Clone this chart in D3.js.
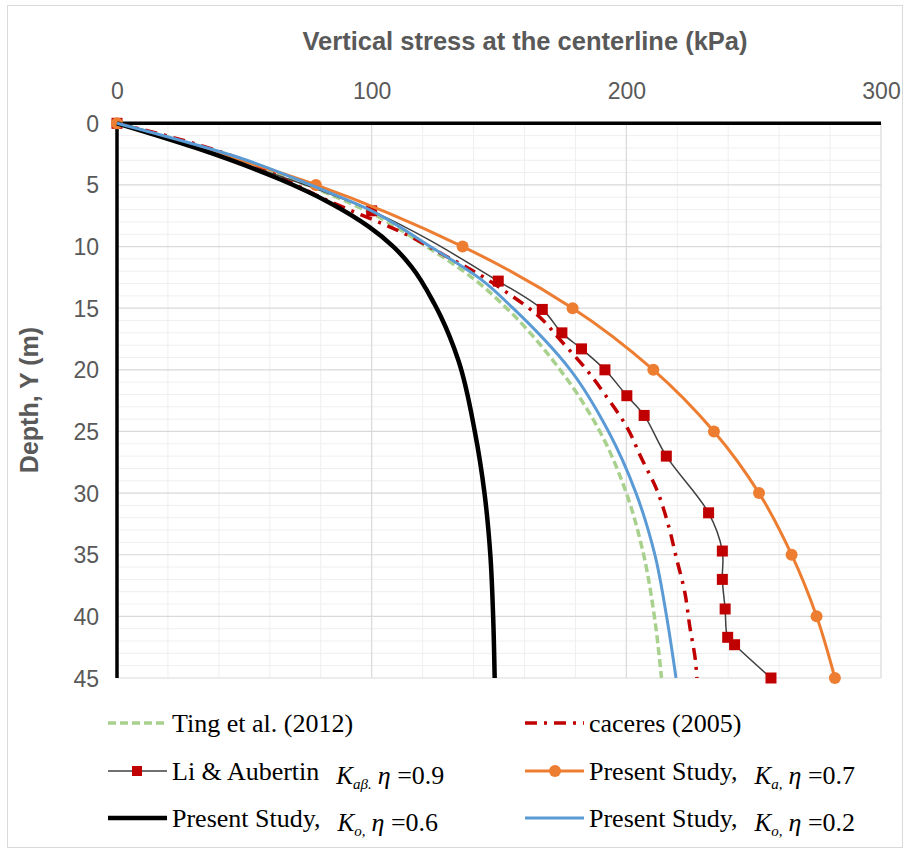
<!DOCTYPE html>
<html><head><meta charset="utf-8">
<script src="https://cdn.jsdelivr.net/npm/d3@7"></script>
<style>body{margin:0;background:#fff}svg{display:block}</style>
</head><body><div id="chart"></div>
<script>
// ---- data ----
const xTicks = [0,100,200,300];
const yTicks = [0,5,10,15,20,25,30,35,40,45];

const tingDepth  = [0,3,5,7,10,12.8,15,20,25,30,35,40,45];
const tingStress = [0,50,74.5,97,121.6,141.2,153,174,189.6,200,206.8,211,213.8];

const caceresDepth  = [0,1.5,3,4.7,5.9,9.3,10.8,12.3,13.9,15.5,17.7,20,22.2,24.6,27.2,29.7,32.6,35.3,38.1,40.8,43.7,45];
const caceresStress = [0,28,50,67.3,79,116.3,129.4,142.5,154.3,164.8,174.6,184.4,192.3,200.1,206,211.9,216.5,219.7,223,224.9,227.2,227.7];

const liDepth  = [0,7.1,12.8,15.1,17.0,18.3,20.0,22.1,23.7,27.0,31.6,34.7,37.0,39.4,41.7,42.3,45.0];
const liStress = [0,100,149.7,167.0,174.7,182.4,191.6,200.2,207.0,215.7,232.3,237.7,237.7,238.8,239.8,242.5,256.8];

const kaDepth  = [0,5,10,15,20,25,30,35,40,45];
const kaStress = [0,78.1,135.7,178.9,210.6,234.4,252.1,264.9,274.7,281.9];

const ko06Depth  = [0,2,4.5,6.5,8.4,10,11.6,14.6,15.7,19.2,25,30,35,40,45];
const ko06Stress = [0,31,63.5,84,99,108.5,115.5,124.5,127.2,134,140.5,144.3,146.6,147.7,148.3];

const ko02Depth  = [0,3,5,7,10,12.8,15,20,25,30,35,40,45];
const ko02Stress = [0,51,76,99,123,143.8,155.5,178,193,203.8,211.2,215.8,219.5];

const zip = (d, s) => d.map((v, i) => ({depth: v, stress: s[i]}));

// ---- layout ----
const W = 907, H = 852;
const svg = d3.select('#chart').append('svg').attr('width', W).attr('height', H);
svg.append('rect').attr('x', 7.5).attr('y', 5.5).attr('width', 895).attr('height', 842)
  .attr('fill', '#fff').attr('stroke', '#d9d9d9').attr('stroke-width', 1);

const x = d3.scaleLinear().domain([0,300]).range([117, 881]);
const y = d3.scaleLinear().domain([0,45]).range([123.3, 678]);

// grid
const g = svg.append('g');
g.selectAll('.vmin').data(d3.range(20, 301, 20).filter(v => v % 100 !== 0)).join('line')
  .attr('x1', d => x(d)).attr('x2', d => x(d)).attr('y1', y(0)).attr('y2', y(45))
  .attr('stroke', '#efefef').attr('stroke-width', 1);
g.selectAll('.hmin').data(d3.range(1, 46, 1).filter(v => v % 5 !== 0)).join('line')
  .attr('x1', x(0)).attr('x2', x(300)).attr('y1', d => y(d)).attr('y2', d => y(d))
  .attr('stroke', '#efefef').attr('stroke-width', 1);
g.selectAll('.vmaj').data([100,200,300]).join('line')
  .attr('x1', d => x(d)).attr('x2', d => x(d)).attr('y1', y(0)).attr('y2', y(45))
  .attr('stroke', '#d9d9d9').attr('stroke-width', 1.2);
g.selectAll('.hmaj').data(yTicks.filter(v => v > 0)).join('line')
  .attr('x1', x(0)).attr('x2', x(300)).attr('y1', d => y(d)).attr('y2', d => y(d))
  .attr('stroke', '#d9d9d9').attr('stroke-width', 1.2);

// axes
const xAxis = d3.axisTop(x).tickValues(xTicks).tickSize(0).tickPadding(0);
const xa = svg.append('g').attr('transform', 'translate(0,99)').call(xAxis);
xa.select('.domain').remove();
xa.selectAll('text').attr('font-family', 'Liberation Sans, Arial, sans-serif')
  .attr('font-size', 23).attr('fill', '#595959').attr('dy', 0);

const yAxis = d3.axisLeft(y).tickValues(yTicks).tickSize(0).tickPadding(0);
const ya = svg.append('g').attr('transform', 'translate(99,0)').call(yAxis);
ya.select('.domain').remove();
ya.selectAll('text').attr('font-family', 'Liberation Sans, Arial, sans-serif')
  .attr('font-size', 23).attr('fill', '#595959').attr('dy', '0.35em');

svg.append('line').attr('x1', x(0) - 1.5).attr('x2', x(300)).attr('y1', y(0)).attr('y2', y(0))
  .attr('stroke', '#000').attr('stroke-width', 3.5);
svg.append('line').attr('x1', x(0)).attr('x2', x(0)).attr('y1', y(0)).attr('y2', y(45))
  .attr('stroke', '#000').attr('stroke-width', 3.5);

// titles
svg.append('text').attr('x', 525).attr('y', 50).attr('text-anchor', 'middle')
  .attr('font-family', 'Liberation Sans, Arial, sans-serif').attr('font-weight', 'bold')
  .attr('font-size', 25.5).attr('fill', '#595959').text('Vertical stress at the centerline (kPa)');
svg.append('text').attr('transform', 'translate(38,400) rotate(-90)').attr('text-anchor', 'middle')
  .attr('font-family', 'Liberation Sans, Arial, sans-serif').attr('font-weight', 'bold')
  .attr('font-size', 25).attr('fill', '#595959').text('Depth, Y (m)');

// series
const line = d3.line().x(d => x(d.stress)).y(d => y(d.depth)).curve(d3.curveMonotoneY);
const liLine = d3.line().x(d => x(d.stress)).y(d => y(d.depth)).curve(d3.curveCatmullRom.alpha(0.5));
const plot = svg.append('g');

plot.append('path').datum(zip(tingDepth, tingStress)).attr('d', line)
  .attr('fill', 'none').attr('stroke', '#a9d18e').attr('stroke-width', 3.5).attr('stroke-dasharray', '8,4');
plot.append('path').datum(zip(caceresDepth, caceresStress)).attr('d', line)
  .attr('fill', 'none').attr('stroke', '#c00000').attr('stroke-width', 3.5).attr('stroke-dasharray', '12,7,3,7');
plot.append('path').datum(zip(liDepth, liStress)).attr('d', liLine)
  .attr('fill', 'none').attr('stroke', '#404040').attr('stroke-width', 1.5);
plot.selectAll('.li').data(zip(liDepth, liStress)).join('rect')
  .attr('x', d => x(d.stress) - 5.5).attr('y', d => y(d.depth) - 5.5)
  .attr('width', 11).attr('height', 11).attr('fill', '#c00000');
plot.append('path').datum(zip(kaDepth, kaStress)).attr('d', line)
  .attr('fill', 'none').attr('stroke', '#ed7d31').attr('stroke-width', 3);
plot.selectAll('.ka').data(zip(kaDepth, kaStress)).join('circle')
  .attr('cx', d => x(d.stress)).attr('cy', d => y(d.depth)).attr('r', 6).attr('fill', '#ed7d31');
plot.append('path').datum(zip(ko06Depth, ko06Stress)).attr('d', line)
  .attr('fill', 'none').attr('stroke', '#000').attr('stroke-width', 4.5);
plot.append('path').datum(zip(ko02Depth, ko02Stress)).attr('d', line)
  .attr('fill', 'none').attr('stroke', '#5b9bd5').attr('stroke-width', 3);

// legend
const legend = [
  {col: 0, row: 0, name: 'Ting et al. (2012)', stroke: '#a9d18e', w: 3.5, dash: '8,4'},
  {col: 1, row: 0, name: 'caceres (2005)', stroke: '#c00000', w: 3.5, dash: '12,7,3,7'},
  {col: 0, row: 1, name: 'Li & Aubertin', k: 'aβ.', eta: '0.9', stroke: '#404040', w: 1.5, marker: 'square'},
  {col: 1, row: 1, name: 'Present Study,', k: 'a,', eta: '0.7', stroke: '#ed7d31', w: 3, marker: 'circle'},
  {col: 0, row: 2, name: 'Present Study,', k: 'o,', eta: '0.6', stroke: '#000', w: 4.5},
  {col: 1, row: 2, name: 'Present Study,', k: 'o,', eta: '0.2', stroke: '#5b9bd5', w: 3}
];
const colX = [108, 525], rowY = [723, 771, 818];
legend.forEach(it => {
  const lx = colX[it.col], ly = rowY[it.row];
  const lg = svg.append('g');
  lg.append('line').attr('x1', lx).attr('x2', lx + 59).attr('y1', ly).attr('y2', ly)
    .attr('stroke', it.stroke).attr('stroke-width', it.w).attr('stroke-dasharray', it.dash || null);
  if (it.marker === 'square') lg.append('rect').attr('x', lx + 24).attr('y', ly - 5).attr('width', 10).attr('height', 10).attr('fill', '#c00000');
  if (it.marker === 'circle') lg.append('circle').attr('cx', lx + 30).attr('cy', ly).attr('r', 6).attr('fill', '#ed7d31');
  const t = lg.append('text').attr('x', lx + 64).attr('y', ly + 9)
    .attr('font-family', 'Liberation Serif, Times New Roman, serif').attr('font-size', 26).attr('fill', '#000');
  t.append('tspan').text(it.name);
  if (it.k) {
    t.append('tspan').attr('dx', 17).attr('dy', 4).attr('font-style', 'italic').attr('font-size', 25).text('K');
    t.append('tspan').attr('dy', 5).attr('font-style', 'italic').attr('font-size', 15).text(it.k);
    t.append('tspan').attr('dx', 6).attr('dy', -5).attr('font-style', 'italic').attr('font-size', 26).text('η');
    t.append('tspan').attr('font-size', 26).text(' =' + it.eta);
  }
});
</script></body></html>
